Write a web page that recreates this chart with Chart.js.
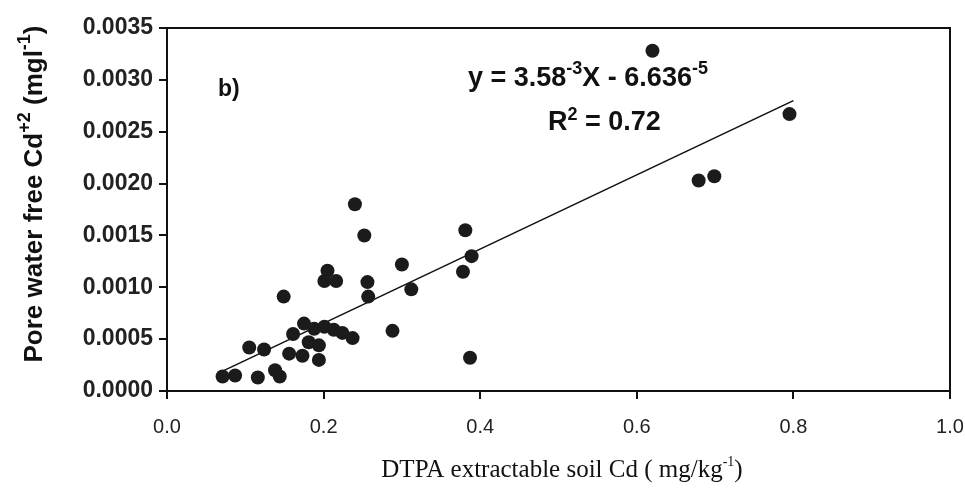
<!DOCTYPE html>
<html>
<head>
<meta charset="utf-8">
<script src="https://cdn.jsdelivr.net/npm/chart.js@4.4.0/dist/chart.umd.min.js"></script>
<style>
  html, body { margin: 0; padding: 0; background: #ffffff; }
  canvas { display: block; }
</style>
</head>
<body>
<canvas id="c" width="965" height="490"></canvas>
<script>
// ---- data ----
const soilCd = [0.071, 0.087, 0.116, 0.105, 0.124, 0.138, 0.144, 0.149, 0.156, 0.173,
                0.194, 0.161, 0.175, 0.181, 0.194, 0.188, 0.201, 0.213, 0.224, 0.237,
                0.205, 0.201, 0.216, 0.240, 0.252, 0.256, 0.257, 0.300, 0.312, 0.288,
                0.381, 0.389, 0.378, 0.387, 0.620, 0.795, 0.679, 0.699];
const poreCd = [0.00014, 0.00015, 0.00013, 0.00042, 0.00040, 0.00020, 0.00014, 0.00091, 0.00036, 0.00034,
                0.00030, 0.00055, 0.00065, 0.00047, 0.00044, 0.00060, 0.00062, 0.00059, 0.00056, 0.00051,
                0.00116, 0.00106, 0.00106, 0.00180, 0.00150, 0.00105, 0.00091, 0.00122, 0.00098, 0.00058,
                0.00155, 0.00130, 0.00115, 0.00032, 0.00328, 0.00267, 0.00203, 0.00207];
const trendX = [0.065, 0.80];
const trendY = [0.00017, 0.00280];
const xTickLabels = ['0.0', '0.2', '0.4', '0.6', '0.8', '1.0'];
const yTickLabels = ['0.0000', '0.0005', '0.0010', '0.0015', '0.0020', '0.0025', '0.0030', '0.0035'];

const points = soilCd.map((x, i) => ({ x: x, y: poreCd[i] }));
const trend = trendX.map((x, i) => ({ x: x, y: trendY[i] }));

const SANS = "'Liberation Sans', Arial, sans-serif";
const SERIF = "'Liberation Serif', 'Times New Roman', serif";

function drawRich(ctx, parts, x, y, align) {
  let total = 0;
  parts.forEach(p => { ctx.font = p.font; p.w = ctx.measureText(p.t).width; total += p.w; });
  let cx = align === 'center' ? x - total / 2 : x;
  parts.forEach(p => {
    ctx.font = p.font;
    ctx.fillText(p.t, cx, y - (p.up || 0));
    cx += p.w;
  });
}

const annotate = {
  id: 'annotate',
  afterDraw(chart) {
    const ctx = chart.ctx;
    const a = chart.chartArea;
    ctx.save();
    // frame
    ctx.strokeStyle = '#111';
    ctx.lineWidth = 2;
    ctx.strokeRect(a.left, a.top, a.right - a.left, a.bottom - a.top);
    ctx.fillStyle = '#111';
    ctx.textAlign = 'left';
    ctx.textBaseline = 'alphabetic';
    // panel label
    ctx.font = 'bold 23px ' + SANS;
    ctx.fillText('b)', 218, 96);
    // equation
    const B = 'bold 27px ' + SANS, S = 'bold 18px ' + SANS;
    drawRich(ctx, [
      { t: 'y = 3.58', font: B }, { t: '-3', font: S, up: 12 },
      { t: 'X - 6.636', font: B }, { t: '-5', font: S, up: 12 }
    ], 468, 86, 'left');
    drawRich(ctx, [
      { t: 'R', font: B }, { t: '2', font: S, up: 10 }, { t: ' = 0.72', font: B }
    ], 548, 130, 'left');
    // x title
    drawRich(ctx, [
      { t: 'DTPA extractable soil Cd ( mg/kg', font: '25px ' + SERIF },
      { t: '-1', font: '14px ' + SERIF, up: 11 },
      { t: ')', font: '25px ' + SERIF }
    ], 562, 477, 'center');
    // y title
    ctx.translate(42, 194);
    ctx.rotate(-Math.PI / 2);
    const YB = 'bold 26px ' + SANS, YS = 'bold 18px ' + SANS;
    drawRich(ctx, [
      { t: 'Pore water free Cd', font: YB }, { t: '+2', font: YS, up: 12 },
      { t: ' (mgl', font: YB }, { t: '-1', font: YS, up: 12 }, { t: ')', font: YB }
    ], 0, 0, 'center');
    ctx.restore();
  }
};

new Chart(document.getElementById('c'), {
  type: 'scatter',
  data: {
    datasets: [
      {
        data: points,
        backgroundColor: '#1b1b1b',
        borderWidth: 0,
        pointRadius: 7,
        pointHoverRadius: 7
      },
      {
        data: trend,
        showLine: true,
        borderColor: '#111',
        borderWidth: 1.6,
        pointRadius: 0,
        fill: false
      }
    ]
  },
  options: {
    responsive: false,
    animation: false,
    devicePixelRatio: 1,
    layout: { padding: { top: 28, right: 15, left: 0, bottom: 0 } },
    plugins: { legend: { display: false }, tooltip: { enabled: false } },
    scales: {
      x: {
        type: 'linear', min: 0, max: 1,
        afterFit(s) { s.height = 99; s.paddingRight = 0; s.paddingLeft = 0; },
        afterBuildTicks(s) { s.ticks = xTickLabels.map(v => ({ value: parseFloat(v) })); },
        ticks: {
          callback: (v, i) => xTickLabels[i],
          font: { family: SANS, size: 20 },
          color: '#222',
          padding: 16,
          maxRotation: 0
        },
        grid: { drawOnChartArea: false, drawTicks: true, tickLength: 8, color: '#111', lineWidth: 2 },
        border: { display: true, color: '#111', width: 2 }
      },
      y: {
        type: 'linear', min: 0, max: 0.0035,
        afterFit(s) { s.width = 167; s.paddingTop = 0; s.paddingBottom = 0; },
        afterBuildTicks(s) { s.ticks = yTickLabels.map(v => ({ value: parseFloat(v) })); },
        ticks: {
          callback: (v, i) => yTickLabels[i],
          font: { family: SANS, size: 23, weight: 'bold' },
          color: '#222',
          padding: 6
        },
        grid: { drawOnChartArea: false, drawTicks: true, tickLength: 8, color: '#111', lineWidth: 2 },
        border: { display: true, color: '#111', width: 2 }
      }
    }
  },
  plugins: [annotate]
});
</script>
</body>
</html>
